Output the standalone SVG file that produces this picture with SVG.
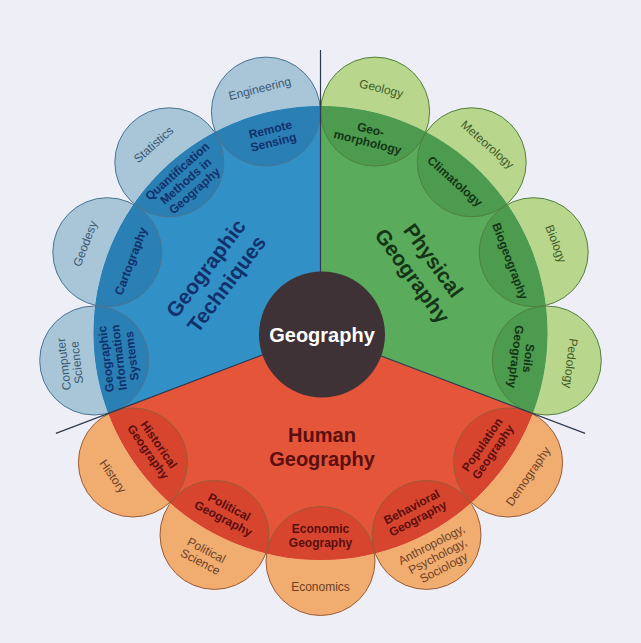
<svg xmlns="http://www.w3.org/2000/svg" width="641" height="643" viewBox="0 0 641 643">
<defs>
<style>
.bg{fill:#eeeef6}
.secb{fill:#3190c5}.secg{fill:#5aac5c}.secr{fill:#e4553a}
.ob{fill:#a9c6d9}.og{fill:#b8d78c}.or{fill:#f1ad70}
.ib{fill:#2a7fb4}.ig{fill:#4c9b4e}.ir{fill:#d8452e}
.sb{fill:none;stroke:#4a7592;stroke-width:1}
.sg{fill:none;stroke:#52803e;stroke-width:1}
.sr{fill:none;stroke:#9c5a36;stroke-width:1}
.div{stroke:#2e3a4e;stroke-width:1.2;fill:none}
text{font-family:"Liberation Sans",Arial,sans-serif;text-anchor:middle}
.tin{font-size:12px;font-weight:bold}
.tout{font-size:12px}
.tbig{font-size:21px;font-weight:bold}
.nb{fill:#12306c}.xb{fill:#3b5872}
.ng{fill:#143516}.xg{fill:#3e5a26}
.nr{fill:#5a0e0e}.xr{fill:#6b4026}
</style>
<clipPath id="inside"><circle cx="320.5" cy="333" r="227"/></clipPath>
<clipPath id="outside"><path clip-rule="evenodd" d="M0,0H641V643H0Z M320.5,106A227,227 0 1,0 320.5,560A227,227 0 1,0 320.5,106Z"/></clipPath>
</defs>
<rect class="bg" x="0" y="0" width="641" height="643"/>

<g id="sectors">
<path id="sector-physical" class="secg" d="M320.5,333L320.5,106A227,227 0 0,1 532.75,413.5Z"/>
<path id="sector-human" class="secr" d="M320.5,333L532.75,413.5A227,227 0 0,1 108.25,413.5Z"/>
<path id="sector-techniques" class="secb" d="M320.5,333L108.25,413.5A227,227 0 0,1 320.5,106Z"/>
</g>

<g id="node-remote-sensing">
<circle class="ob" cx="265.9" cy="111.6" r="54.5" clip-path="url(#outside)"/>
<circle class="ib" cx="265.9" cy="111.6" r="54.5" clip-path="url(#inside)"/>
<circle class="sb" cx="265.9" cy="111.6" r="54.5"/>
<text class="tin nb" transform="translate(271.9,135.9) rotate(-13.85)"><tspan x="0" y="-2.5">Remote</tspan><tspan x="0" y="10.5">Sensing</tspan></text>
<text class="tout xb" transform="translate(259.7,88.3) rotate(-13.85)"><tspan x="0" y="4.3">Engineering</tspan></text>
</g>

<g id="node-quantification">
<circle class="ob" cx="169.3" cy="162.3" r="54.5" clip-path="url(#outside)"/>
<circle class="ib" cx="169.3" cy="162.3" r="54.5" clip-path="url(#inside)"/>
<circle class="sb" cx="169.3" cy="162.3" r="54.5"/>
<text class="tin nb" transform="translate(185.9,181.1) rotate(-41.54)"><tspan x="0" y="-9">Quantification</tspan><tspan x="0" y="4">Methods in</tspan><tspan x="0" y="17">Geography</tspan></text>
<text class="tout xb" transform="translate(153.4,144.4) rotate(-41.54)"><tspan x="0" y="4.3">Statistics</tspan></text>
</g>

<g id="node-cartography">
<circle class="ob" cx="107.3" cy="252.2" r="54.5" clip-path="url(#outside)"/>
<circle class="ib" cx="107.3" cy="252.2" r="54.5" clip-path="url(#inside)"/>
<circle class="sb" cx="107.3" cy="252.2" r="54.5"/>
<text class="tin nb" transform="translate(130.7,261) rotate(-69.23)"><tspan x="0" y="4.3">Cartography</tspan></text>
<text class="tout xb" transform="translate(84.9,243.6) rotate(-69.23)"><tspan x="0" y="4.3">Geodesy</tspan></text>
</g>

<g id="node-gis">
<circle class="ob" cx="94.2" cy="360.5" r="54.5" clip-path="url(#outside)"/>
<circle class="ib" cx="94.2" cy="360.5" r="54.5" clip-path="url(#inside)"/>
<circle class="sb" cx="94.2" cy="360.5" r="54.5"/>
<text class="tin nb" transform="translate(119,357.5) rotate(-96.92)"><tspan x="0" y="-9">Geographic</tspan><tspan x="0" y="4">Information</tspan><tspan x="0" y="17">Systems</tspan></text>
<text class="tout xb" transform="translate(70.3,363.4) rotate(-96.92)"><tspan x="0" y="-2.5">Computer</tspan><tspan x="0" y="10.5">Science</tspan></text>
</g>

<g id="node-geomorphology">
<circle class="og" cx="375.1" cy="111.6" r="54.5" clip-path="url(#outside)"/>
<circle class="ig" cx="375.1" cy="111.6" r="54.5" clip-path="url(#inside)"/>
<circle class="sg" cx="375.1" cy="111.6" r="54.5"/>
<text class="tin ng" transform="translate(369.1,135.9) rotate(13.85)"><tspan x="0" y="-2.5">Geo-</tspan><tspan x="0" y="10.5">morphology</tspan></text>
<text class="tout xg" transform="translate(381.3,88.3) rotate(13.85)"><tspan x="0" y="4.3">Geology</tspan></text>
</g>

<g id="node-climatology">
<circle class="og" cx="471.7" cy="162.3" r="54.5" clip-path="url(#outside)"/>
<circle class="ig" cx="471.7" cy="162.3" r="54.5" clip-path="url(#inside)"/>
<circle class="sg" cx="471.7" cy="162.3" r="54.5"/>
<text class="tin ng" transform="translate(455.1,181.1) rotate(41.54)"><tspan x="0" y="4.3">Climatology</tspan></text>
<text class="tout xg" transform="translate(487.6,144.4) rotate(41.54)"><tspan x="0" y="4.3">Meteorology</tspan></text>
</g>

<g id="node-biogeography">
<circle class="og" cx="533.7" cy="252.2" r="54.5" clip-path="url(#outside)"/>
<circle class="ig" cx="533.7" cy="252.2" r="54.5" clip-path="url(#inside)"/>
<circle class="sg" cx="533.7" cy="252.2" r="54.5"/>
<text class="tin ng" transform="translate(510.3,261) rotate(69.23)"><tspan x="0" y="4.3">Biogeography</tspan></text>
<text class="tout xg" transform="translate(556.1,243.6) rotate(69.23)"><tspan x="0" y="4.3">Biology</tspan></text>
</g>

<g id="node-soils">
<circle class="og" cx="546.8" cy="360.5" r="54.5" clip-path="url(#outside)"/>
<circle class="ig" cx="546.8" cy="360.5" r="54.5" clip-path="url(#inside)"/>
<circle class="sg" cx="546.8" cy="360.5" r="54.5"/>
<text class="tin ng" transform="translate(522,357.5) rotate(96.92)"><tspan x="0" y="-2.5">Soils</tspan><tspan x="0" y="10.5">Geography</tspan></text>
<text class="tout xg" transform="translate(570.7,363.4) rotate(96.92)"><tspan x="0" y="4.3">Pedology</tspan></text>
</g>

<g id="node-population">
<circle class="or" cx="508.1" cy="462.5" r="54.5" clip-path="url(#outside)"/>
<circle class="ir" cx="508.1" cy="462.5" r="54.5" clip-path="url(#inside)"/>
<circle class="sr" cx="508.1" cy="462.5" r="54.5"/>
<text class="tin nr" transform="translate(487.6,448.3) rotate(-55.38)"><tspan x="0" y="-2.5">Population</tspan><tspan x="0" y="10.5">Geography</tspan></text>
<text class="tout xr" transform="translate(527.9,476.2) rotate(-55.38)"><tspan x="0" y="4.3">Demography</tspan></text>
</g>

<g id="node-behavioral">
<circle class="or" cx="426.5" cy="534.9" r="54.5" clip-path="url(#outside)"/>
<circle class="ir" cx="426.5" cy="534.9" r="54.5" clip-path="url(#inside)"/>
<circle class="sr" cx="426.5" cy="534.9" r="54.5"/>
<text class="tin nr" transform="translate(414.8,512.8) rotate(-27.69)"><tspan x="0" y="-2.5">Behavioral</tspan><tspan x="0" y="10.5">Geography</tspan></text>
<text class="tout xr" transform="translate(437.6,556.1) rotate(-27.69)"><tspan x="0" y="-9">Anthropology,</tspan><tspan x="0" y="4">Psychology,</tspan><tspan x="0" y="17">Sociology</tspan></text>
</g>

<g id="node-economic">
<circle class="or" cx="320.5" cy="561" r="54.5" clip-path="url(#outside)"/>
<circle class="ir" cx="320.5" cy="561" r="54.5" clip-path="url(#inside)"/>
<circle class="sr" cx="320.5" cy="561" r="54.5"/>
<text class="tin nr" transform="translate(320.5,536)"><tspan x="0" y="-3">Economic</tspan><tspan x="0" y="11">Geography</tspan></text>
<text class="tout xr" transform="translate(320.5,587)"><tspan x="0" y="4.3">Economics</tspan></text>
</g>

<g id="node-political">
<circle class="or" cx="214.5" cy="534.9" r="54.5" clip-path="url(#outside)"/>
<circle class="ir" cx="214.5" cy="534.9" r="54.5" clip-path="url(#inside)"/>
<circle class="sr" cx="214.5" cy="534.9" r="54.5"/>
<text class="tin nr" transform="translate(226.2,512.8) rotate(27.69)"><tspan x="0" y="-2.5">Political</tspan><tspan x="0" y="10.5">Geography</tspan></text>
<text class="tout xr" transform="translate(203.4,556.1) rotate(27.69)"><tspan x="0" y="-2.5">Political</tspan><tspan x="0" y="10.5">Science</tspan></text>
</g>

<g id="node-historical">
<circle class="or" cx="132.9" cy="462.5" r="54.5" clip-path="url(#outside)"/>
<circle class="ir" cx="132.9" cy="462.5" r="54.5" clip-path="url(#inside)"/>
<circle class="sr" cx="132.9" cy="462.5" r="54.5"/>
<text class="tin nr" transform="translate(153.4,448.3) rotate(55.38)"><tspan x="0" y="-2.5">Historical</tspan><tspan x="0" y="10.5">Geography</tspan></text>
<text class="tout xr" transform="translate(113.1,476.2) rotate(55.38)"><tspan x="0" y="4.3">History</tspan></text>
</g>

<g id="connectors">
<line class="div" x1="320.5" y1="333" x2="320.5" y2="50"/>
<line class="div" x1="320.5" y1="333" x2="585.1" y2="433.4"/>
<line class="div" x1="320.5" y1="333" x2="55.9" y2="433.4"/>
</g>

<g id="node-techniques">
<text class="tbig nb" transform="translate(216,276) rotate(-53)"><tspan x="0" y="-5.5">Geographic</tspan><tspan x="0" y="20.5">Techniques</tspan></text>
</g>
<g id="node-physical">
<text class="tbig ng" transform="translate(423,268) rotate(54)"><tspan x="0" y="-5.5">Physical</tspan><tspan x="0" y="20.5">Geography</tspan></text>
</g>
<g id="node-human">
<text class="tbig nr" x="322" y="442" style="font-size:20px">Human</text>
<text class="tbig nr" x="322" y="466" style="font-size:20px">Geography</text>
</g>

<g id="node-geography">
<circle cx="322" cy="334.5" r="63" fill="#3e3236"/>
<text x="322" y="342" style="font-size:20px;font-weight:bold;fill:#ffffff">Geography</text>
</g>
</svg>
